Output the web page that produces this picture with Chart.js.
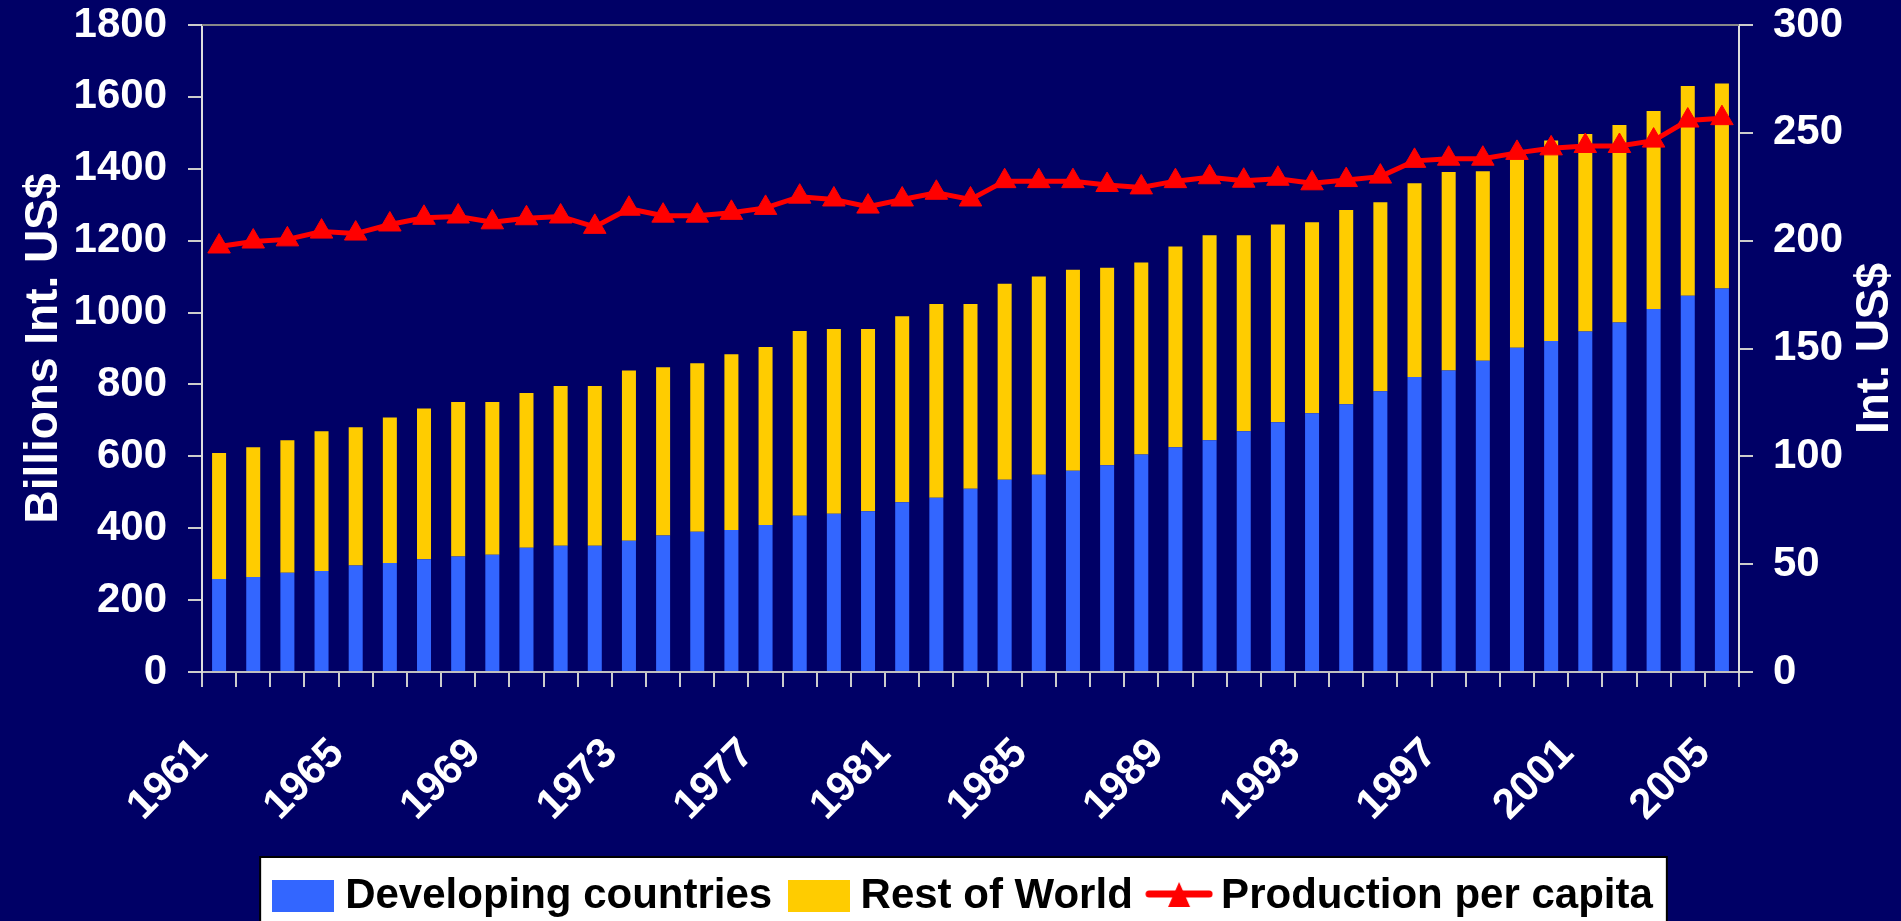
<!DOCTYPE html>
<html>
<head>
<meta charset="utf-8">
<title>Production</title>
<script src="https://cdn.jsdelivr.net/npm/chart.js@4.4.1/dist/chart.umd.min.js"></script>
<style>
  html, body { margin: 0; padding: 0; background: #000066; overflow: hidden; }
  #myChart { display: block; }
</style>
</head>
<body>
<canvas id="myChart" width="1901" height="921"></canvas>
<script>
// Datos del grafico
var years = ['1961','1962','1963','1964','1965','1966','1967','1968','1969','1970',
             '1971','1972','1973','1974','1975','1976','1977','1978','1979','1980',
             '1981','1982','1983','1984','1985','1986','1987','1988','1989','1990',
             '1991','1992','1993','1994','1995','1996','1997','1998','1999','2000',
             '2001','2002','2003','2004','2005'];

// Billions Int. US$
var developing = [259, 264, 276, 281, 296, 303, 314, 321, 326, 346,
                  351, 351, 365, 380, 390, 395, 409, 435, 440, 447,
                  472, 485, 510, 535, 549, 560, 575, 605, 625, 645,
                  670, 695, 720, 745, 781, 821, 839, 866, 902, 921,
                  947, 972, 1010, 1047, 1067];
var restOfWorld = [350, 361, 369, 389, 385, 405, 419, 430, 425, 430,
                   445, 445, 474, 468, 469, 489, 495, 514, 514, 507,
                   518, 539, 514, 545, 551, 559, 550, 534, 559, 570,
                   545, 550, 531, 540, 526, 539, 552, 527, 528, 558,
                   550, 550, 551, 583, 570];

// Int. US$ (eje derecho)
var perCapita = [197.3, 199.6, 200.6, 204.2, 203.3, 207.5, 210.6, 211.2, 208.5, 210.4,
                 211.2, 206.4, 214.8, 211.6, 211.6, 212.9, 215.2, 220.4, 219.1, 215.8,
                 219.1, 222.2, 219.1, 227.6, 227.6, 227.6, 225.8, 224.7, 227.6, 229.4,
                 227.8, 228.7, 226.6, 228.1, 229.7, 237.0, 238.0, 238.0, 240.7, 242.8,
                 243.9, 243.9, 246.4, 255.7, 256.8];

var seriesNames = ['Developing countries', 'Rest of World', 'Production per capita'];
var seriesColors = ['#3366FF', '#FFCC00', '#FF0000'];
var leftAxisTitle = 'Billions Int. US$';
var rightAxisTitle = 'Int. US$';
var leftMax = 1800, leftStep = 200;
var rightMax = 300, rightStep = 50;
var yearLabelEvery = 4;

var FONT = "'Liberation Sans', Arial, sans-serif";
var BG = '#000066';

// Iconos de la leyenda
function boxLegendIcon(color) {
    var c = document.createElement('canvas');
    c.width = 62; c.height = 32;
    var g = c.getContext('2d');
    g.fillStyle = color;
    g.fillRect(0, 0, 62, 32);
    return c;
}
function lineLegendIcon(color) {
    var c = document.createElement('canvas');
    c.width = 68; c.height = 32;
    var g = c.getContext('2d');
    g.strokeStyle = color; g.lineWidth = 7; g.lineCap = 'round';
    g.beginPath(); g.moveTo(4, 14); g.lineTo(64, 14); g.stroke();
    g.fillStyle = color;
    g.beginPath(); g.moveTo(34, 2); g.lineTo(45, 27); g.lineTo(23, 27); g.closePath(); g.fill();
    return c;
}
var legendIcons = [boxLegendIcon(seriesColors[0]), boxLegendIcon(seriesColors[1]), lineLegendIcon(seriesColors[2])];

// Fondo, caja blanca de la leyenda, borde superior y titulo derecho
var decorPlugin = {
    id: 'decor',
    beforeDraw: function(chart) {
        var ctx = chart.ctx;
        ctx.save();
        ctx.fillStyle = BG;
        ctx.fillRect(0, 0, chart.width, chart.height);
        var boxes = chart.legend.legendHitBoxes;
        if (boxes && boxes.length) {
            var l = boxes[0].left, r = 0;
            boxes.forEach(function(b) { l = Math.min(l, b.left); r = Math.max(r, b.left + b.width); });
            var x0 = l - 22, y0 = chart.legend.top - 16;
            ctx.fillStyle = '#ffffff';
            ctx.fillRect(x0, y0, (r + 14) - x0, chart.height - y0 + 2);
            ctx.strokeStyle = '#000000'; ctx.lineWidth = 2;
            ctx.strokeRect(x0, y0, (r + 14) - x0, chart.height - y0 + 2);
        }
        ctx.restore();
    },
    afterDraw: function(chart) {
        var ctx = chart.ctx, a = chart.chartArea;
        ctx.save();
        ctx.strokeStyle = '#888888'; ctx.lineWidth = 2;
        ctx.beginPath(); ctx.moveTo(a.left, a.top); ctx.lineTo(a.right, a.top); ctx.stroke();
        var s = chart.scales.y1;
        ctx.translate(s.right - 26, (a.top + a.bottom) / 2);
        ctx.rotate(-Math.PI / 2);
        ctx.fillStyle = '#ffffff';
        ctx.font = 'bold 46px ' + FONT;
        ctx.textAlign = 'center'; ctx.textBaseline = 'middle';
        ctx.fillText(rightAxisTitle, 0, 0);
        ctx.restore();
    }
};

var tickFont = { family: FONT, size: 42, weight: 'bold' };
function plainNumber(v) { return String(v); }

var config = {
    type: 'bar',
    data: {
        labels: years,
        datasets: [
            { type: 'bar', label: seriesNames[0], data: developing, backgroundColor: seriesColors[0],
              borderWidth: 0, yAxisID: 'y', order: 1, categoryPercentage: 1, barPercentage: 0.41 },
            { type: 'bar', label: seriesNames[1], data: restOfWorld, backgroundColor: seriesColors[1],
              borderWidth: 0, yAxisID: 'y', order: 1, categoryPercentage: 1, barPercentage: 0.41 },
            { type: 'line', label: seriesNames[2], data: perCapita, yAxisID: 'y1', order: 0,
              borderColor: seriesColors[2], backgroundColor: seriesColors[2], borderWidth: 5, tension: 0,
              pointStyle: 'triangle', pointRadius: 13, pointHoverRadius: 13, pointBorderWidth: 1 }
        ]
    },
    options: {
        responsive: false,
        animation: false,
        devicePixelRatio: 1,
        layout: { padding: { top: 25, left: 34, right: 0, bottom: -6 } },
        scales: {
            x: {
                stacked: true,
                offset: true,
                grid: { drawOnChartArea: false, tickLength: 15, color: '#cccccc', lineWidth: 2, offset: true },
                border: { display: true, color: '#c0c0c0', width: 2 },
                ticks: {
                    autoSkip: false, minRotation: 45, maxRotation: 45, padding: 42, labelOffset: -18,
                    color: '#ffffff', font: tickFont,
                    callback: function(v, i) { return i % yearLabelEvery === 0 ? years[i] : ''; }
                },
                afterFit: function(s) { s.height = 201; }
            },
            y: {
                position: 'left', stacked: true, min: 0, max: leftMax,
                grid: { drawOnChartArea: false, tickLength: 14, color: '#cccccc', lineWidth: 2 },
                border: { display: true, color: '#dddddd', width: 2 },
                ticks: { stepSize: leftStep, padding: 21, color: '#ffffff', font: tickFont, callback: plainNumber },
                title: { display: true, text: leftAxisTitle, color: '#ffffff', padding: 0,
                         font: { family: FONT, size: 46, weight: 'bold', lineHeight: 0.44 } },
                afterFit: function(s) { s.width = 168; s.paddingTop = 0; }
            },
            y1: {
                position: 'right', min: 0, max: rightMax,
                grid: { drawOnChartArea: false, tickLength: 14, color: '#cccccc', lineWidth: 2 },
                border: { display: true, color: '#dddddd', width: 2 },
                ticks: { stepSize: rightStep, padding: 20, color: '#ffffff', font: tickFont, callback: plainNumber },
                afterFit: function(s) { s.width = 162; s.paddingTop = 0; }
            }
        },
        plugins: {
            tooltip: { enabled: false },
            legend: {
                position: 'bottom',
                labels: {
                    usePointStyle: true, pointStyleWidth: 42, boxHeight: 32, padding: 2,
                    color: '#000000', font: { family: FONT, size: 42, weight: 'bold' },
                    sort: function(a, b) { return a.datasetIndex - b.datasetIndex; },
                    generateLabels: function(chart) {
                        var items = Chart.defaults.plugins.legend.labels.generateLabels(chart);
                        items.forEach(function(it) {
                            it.pointStyle = legendIcons[it.datasetIndex];
                            if (it.datasetIndex < 2) { it.text = it.text + '  '; }
                        });
                        return items;
                    }
                }
            }
        }
    },
    plugins: [decorPlugin]
};

var myChart = new Chart(document.getElementById('myChart'), config);
</script>
</body>
</html>
